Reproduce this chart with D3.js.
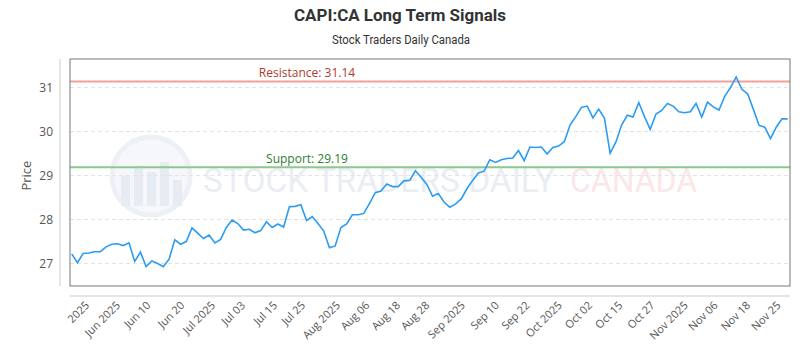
<!DOCTYPE html>
<html>
<head>
<meta charset="utf-8">
<title>CAPI:CA Long Term Signals</title>
<script src="https://d3js.org/d3.v7.min.js"></script>
<style>
  body { margin: 0; background: #fff; }
  svg text { font-family: "Open Sans", sans-serif; }
</style>
</head>
<body>
<svg id="chart" width="800" height="350"></svg>
<script>
// daily closes
var prices = [
  27.22, 27.02, 27.23, 27.24, 27.27, 27.27, 27.38, 27.44, 27.45, 27.41,
  27.47, 27.05, 27.26, 26.93, 27.06, 27.00, 26.93, 27.10, 27.54, 27.44,
  27.50, 27.81, 27.69, 27.57, 27.65, 27.47, 27.55, 27.82, 27.99, 27.91,
  27.76, 27.78, 27.70, 27.75, 27.95, 27.82, 27.90, 27.83, 28.29, 28.30,
  28.34, 27.98, 28.07, 27.91, 27.74, 27.36, 27.40, 27.82, 27.90, 28.11,
  28.11, 28.14, 28.37, 28.61, 28.65, 28.81, 28.75, 28.75, 28.88, 28.89,
  29.11, 28.96, 28.80, 28.53, 28.59, 28.40, 28.28, 28.35, 28.47, 28.70,
  28.89, 29.06, 29.10, 29.36, 29.30, 29.36, 29.39, 29.40, 29.57, 29.34,
  29.65, 29.64, 29.65, 29.49, 29.64, 29.67, 29.77, 30.15, 30.34, 30.55,
  30.58, 30.31, 30.51, 30.31, 29.51, 29.76, 30.15, 30.37, 30.33, 30.66,
  30.34, 30.05, 30.40, 30.48, 30.64, 30.58, 30.45, 30.43, 30.45, 30.64,
  30.33, 30.67, 30.56, 30.49, 30.80, 31.00, 31.24, 30.96, 30.86, 30.51,
  30.14, 30.10, 29.84, 30.10, 30.29, 30.29
];

var tickLabels = ["2025", "Jun 2025", "Jun 10", "Jun 20", "Jul 2025", "Jul 03", "Jul 15",
  "Jul 25", "Aug 2025", "Aug 06", "Aug 18", "Aug 28", "Sep 2025", "Sep 10", "Sep 22",
  "Oct 2025", "Oct 02", "Oct 15", "Oct 27", "Nov 2025", "Nov 06", "Nov 18", "Nov 25"];
// where each label sits, in data-point index units
var tickPos = [3.2, 8.6, 13.9, 19.8, 25.2, 30.4, 36.0, 40.9, 47.0, 52.1, 57.5, 62.6,
  68.8, 74.7, 80.1, 85.7, 91.0, 96.3, 101.9, 107.7, 112.9, 118.6, 123.9];

var yTicks = [27, 28, 29, 30, 31];
var support = 29.19;
var resistance = 31.14;

var svg = d3.select("#chart");
var plot = {left: 70, right: 790, top: 59, bottom: 286};

var x = d3.scaleLinear().domain([0, prices.length - 1]).range([71.7, 787.7]);
var y = d3.scaleLinear().domain([26.49, 31.65]).range([plot.bottom, plot.top]);

// titles
svg.append("text")
  .attr("x", 400).attr("y", 21)
  .attr("text-anchor", "middle")
  .attr("textLength", 212).attr("lengthAdjust", "spacingAndGlyphs")
  .style("font-family", "Roboto, sans-serif")
  .style("font-weight", "bold").style("font-size", "17px")
  .style("fill", "#333")
  .text("CAPI:CA Long Term Signals");

svg.append("text")
  .attr("x", 401).attr("y", 44)
  .attr("text-anchor", "middle")
  .attr("textLength", 138).attr("lengthAdjust", "spacingAndGlyphs")
  .style("font-family", "Roboto, sans-serif")
  .style("font-size", "12px").style("fill", "#333")
  .text("Stock Traders Daily Canada");

// watermark
var wm = svg.append("g").attr("opacity", 0.55);
wm.append("circle").attr("cx", 151).attr("cy", 176).attr("r", 39)
  .style("fill", "#eef2f8").style("stroke", "#dfe6f0").style("stroke-width", 5);
[[125, 30], [138, 40], [151, 34], [164, 44], [177, 26]].forEach(function(b) {
  wm.append("rect").attr("x", b[0] - 4).attr("y", 206 - b[1])
    .attr("width", 9).attr("height", b[1]).style("fill", "#d5deea");
});
wm.append("text").attr("x", 203).attr("y", 192)
  .attr("textLength", 352).attr("lengthAdjust", "spacingAndGlyphs")
  .style("font-family", "Roboto, sans-serif").style("font-size", "34px")
  .style("fill", "#d9e1ec").text("STOCK TRADERS DAILY");
wm.append("text").attr("x", 570).attr("y", 192)
  .attr("textLength", 127).attr("lengthAdjust", "spacingAndGlyphs")
  .style("font-family", "Roboto, sans-serif").style("font-size", "34px")
  .style("fill", "#f8d4d4").text("CANADA");

// grid
svg.append("g").selectAll("line")
  .data(yTicks)
  .enter().append("line")
  .attr("x1", plot.left).attr("x2", plot.right)
  .attr("y1", function(d) { return y(d); })
  .attr("y2", function(d) { return y(d); })
  .style("stroke", "#e2e2e2").style("stroke-dasharray", "4,3");

// y axis
svg.append("line")
  .attr("x1", 60).attr("x2", 60).attr("y1", plot.top).attr("y2", plot.bottom)
  .style("stroke", "#ccc");
svg.append("g").selectAll("text")
  .data(yTicks)
  .enter().append("text")
  .attr("x", 53)
  .attr("y", function(d) { return y(d); })
  .attr("dy", "0.35em")
  .attr("text-anchor", "end")
  .style("font-size", "12px").style("fill", "#555")
  .text(function(d) { return d; });

svg.append("text")
  .attr("transform", "translate(31," + y(29) + ") rotate(-90)")
  .attr("text-anchor", "middle")
  .style("font-size", "13px").style("fill", "#555")
  .text("Price");

// x axis
svg.append("line")
  .attr("x1", plot.left).attr("x2", plot.right).attr("y1", 296).attr("y2", 296)
  .style("stroke", "#ccc");
svg.append("g").selectAll("text")
  .data(tickLabels)
  .enter().append("text")
  .attr("transform", function(d, i) {
    return "translate(" + x(tickPos[i]) + ",306) rotate(-45)";
  })
  .attr("text-anchor", "end")
  .style("font-size", "11px").style("fill", "#555")
  .text(function(d) { return d; });

// support / resistance
svg.append("line")
  .attr("x1", plot.left).attr("x2", plot.right)
  .attr("y1", y(resistance)).attr("y2", y(resistance))
  .style("stroke", "#f4a09a").style("stroke-width", 2);
svg.append("text")
  .attr("x", 307).attr("y", y(resistance) - 4)
  .attr("text-anchor", "middle")
  .style("font-size", "12px").style("fill", "#b03a2e")
  .text("Resistance: " + resistance);

svg.append("line")
  .attr("x1", plot.left).attr("x2", plot.right)
  .attr("y1", y(support)).attr("y2", y(support))
  .style("stroke", "#8cc98c").style("stroke-width", 2);
svg.append("text")
  .attr("x", 307).attr("y", y(support) - 4)
  .attr("text-anchor", "middle")
  .style("font-size", "12px").style("fill", "#2e7d32")
  .text("Support: " + support);

// price line
var line = d3.line()
  .x(function(d, i) { return x(i); })
  .y(function(d) { return y(d); });

svg.append("path")
  .datum(prices)
  .attr("d", line)
  .style("fill", "none")
  .style("stroke", "#2b9cf2")
  .style("stroke-width", 1.6);

// plot frame
svg.append("rect")
  .attr("x", plot.left).attr("y", plot.top)
  .attr("width", plot.right - plot.left).attr("height", plot.bottom - plot.top)
  .style("fill", "none").style("stroke", "#777");
</script>
</body>
</html>
